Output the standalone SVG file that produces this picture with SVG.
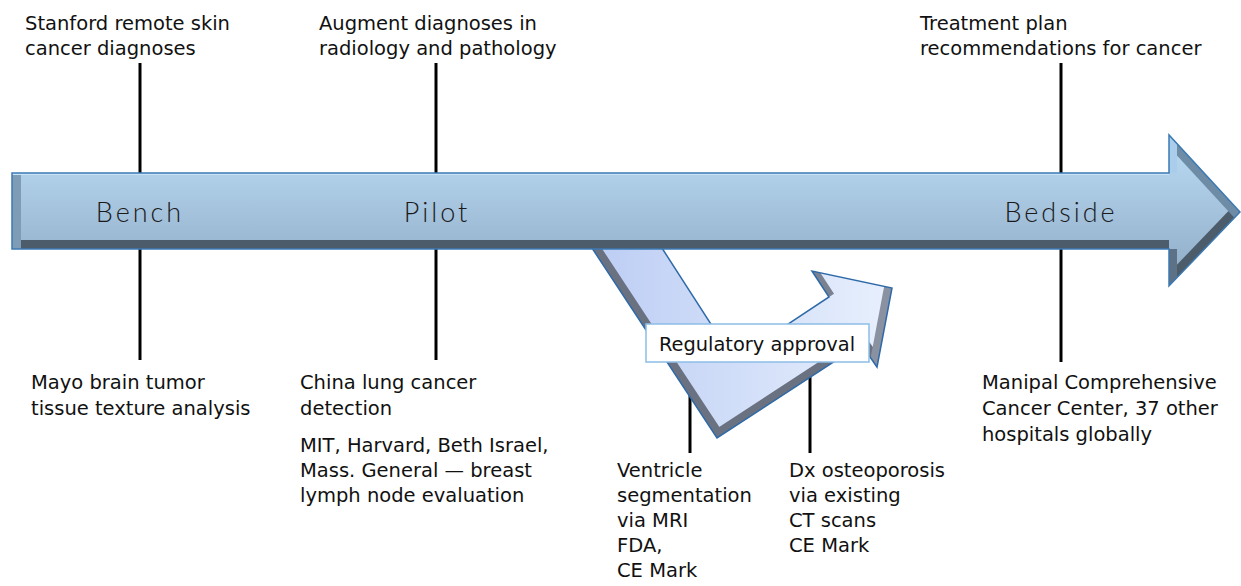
<svg xmlns="http://www.w3.org/2000/svg" width="1241" height="586" viewBox="0 0 1241 586">
<style>
.t{font-family:"DejaVu Sans","Liberation Sans",sans-serif;font-size:19.5px;fill:#111}
.big{font-family:Lato,"Liberation Sans",sans-serif;font-weight:300;font-size:27px;letter-spacing:3px;fill:#1a1a1a;text-anchor:middle}
.ln{stroke:#000;stroke-width:3;fill:none}
</style>
<defs>
<linearGradient id="gMain" x1="0" y1="0" x2="0" y2="1">
<stop offset="0" stop-color="#bcdcf6"/><stop offset="1" stop-color="#8eaac4"/>
</linearGradient>
<linearGradient id="gV" x1="0" y1="0" x2="1" y2="0">
<stop offset="0" stop-color="#bccdf4"/><stop offset="1" stop-color="#e8f0fd"/>
</linearGradient>
<clipPath id="cMain"><path d="M12,173 H1169 V135 L1240,212 L1169,286 V249 H12 Z"/></clipPath>
<clipPath id="cV"><path d="M590,245 L717,438 L861,344 L877,367 L892,288 L812,271 L829,297 L734,360 L660,245 Z"/></clipPath>
</defs>
<g id="connectors">
<line class="ln" x1="140" y1="63" x2="140" y2="180"/>
<line class="ln" x1="140" y1="245" x2="140" y2="360"/>
<line class="ln" x1="436" y1="63" x2="436" y2="180"/>
<line class="ln" x1="436" y1="245" x2="436" y2="360"/>
<line class="ln" x1="1061" y1="63" x2="1061" y2="180"/>
<line class="ln" x1="1061" y1="245" x2="1061" y2="362"/>
<line class="ln" x1="690" y1="360" x2="690" y2="453"/>
<line class="ln" x1="810" y1="360" x2="810" y2="453"/>
</g>
<g id="regulatory-arrow">
<path d="M590,245 L717,438 L861,344 L877,367 L892,288 L812,271 L829,297 L734,360 L660,245 Z" fill="url(#gV)"/>
<g clip-path="url(#cV)" fill="none">
<polyline points="590,245 717,438 861,344 877,367" stroke="#6a7282" stroke-width="16"/>
<line x1="877" y1="367" x2="892" y2="288" stroke="#8a92a2" stroke-width="16"/>
<line x1="812" y1="271" x2="829" y2="297" stroke="#7a8292" stroke-width="12"/>
</g>
<path d="M590,245 L717,438 L861,344 L877,367 L892,288 L812,271 L829,297 L734,360 L660,245" fill="none" stroke="#2f6aa8" stroke-width="1.5"/>
</g>
<g id="main-arrow">
<path d="M12,173 H1169 V135 L1240,212 L1169,286 V249 H12 Z" fill="url(#gMain)"/>
<g clip-path="url(#cMain)" fill="none">
<line x1="0" y1="249" x2="1169" y2="249" stroke="#4c5c6b" stroke-width="18"/>
<line x1="12" y1="173" x2="12" y2="249" stroke="#7e9cb6" stroke-width="18"/>
<line x1="1169" y1="286" x2="1240" y2="212" stroke="#4c5c6b" stroke-width="18"/>
<line x1="1169" y1="135" x2="1240" y2="212" stroke="#6f8ca6" stroke-width="16"/>
<line x1="1169" y1="135" x2="1169" y2="173" stroke="#a9cdea" stroke-width="16"/>
<line x1="1169" y1="249" x2="1169" y2="286" stroke="#5d7187" stroke-width="16"/>
<line x1="12" y1="173" x2="1169" y2="173" stroke="#c8e2f8" stroke-width="4"/>
</g>
<path d="M12,173 H1169 V135 L1240,212 L1169,286 V249 H12 Z" fill="none" stroke="#3c7ab4" stroke-width="1.5"/>
</g>
<g id="bench"><text class="big" x="140" y="222">Bench</text></g>
<g id="pilot"><text class="big" x="437" y="222">Pilot</text></g>
<g id="bedside"><text class="big" x="1061" y="222">Bedside</text></g>
<g id="reg-label">
<rect x="646" y="324" width="223" height="38" fill="#fff" stroke="#8dbde6" stroke-width="1.5"/>
<text x="757" y="351" class="t" style="font-size:19.4px;text-anchor:middle">Regulatory approval</text>
</g>
<g id="stanford"><text class="t" x="25" y="30">Stanford remote skin</text><text class="t" x="25" y="55">cancer diagnoses</text></g>
<g id="augment"><text class="t" x="319" y="30">Augment diagnoses in</text><text class="t" x="319" y="55">radiology and pathology</text></g>
<g id="treatment"><text class="t" x="920" y="30">Treatment plan</text><text class="t" x="920" y="55">recommendations for cancer</text></g>
<g id="mayo"><text class="t" x="31" y="389">Mayo brain tumor</text><text class="t" x="31" y="415">tissue texture analysis</text></g>
<g id="china"><text class="t" x="300" y="389">China lung cancer</text><text class="t" x="300" y="415">detection</text></g>
<g id="mit"><text class="t" x="300" y="452">MIT, Harvard, Beth Israel,</text><text class="t" x="300" y="477">Mass. General — breast</text><text class="t" x="300" y="502">lymph node evaluation</text></g>
<g id="manipal"><text class="t" x="982" y="389">Manipal Comprehensive</text><text class="t" x="982" y="415">Cancer Center, 37 other</text><text class="t" x="982" y="441">hospitals globally</text></g>
<g id="ventricle"><text class="t" x="617" y="477">Ventricle</text><text class="t" x="617" y="502">segmentation</text><text class="t" x="617" y="527">via MRI</text><text class="t" x="617" y="552">FDA,</text><text class="t" x="617" y="577">CE Mark</text></g>
<g id="dx"><text class="t" x="789" y="477">Dx osteoporosis</text><text class="t" x="789" y="502">via existing</text><text class="t" x="789" y="527">CT scans</text><text class="t" x="789" y="552">CE Mark</text></g>
</svg>
